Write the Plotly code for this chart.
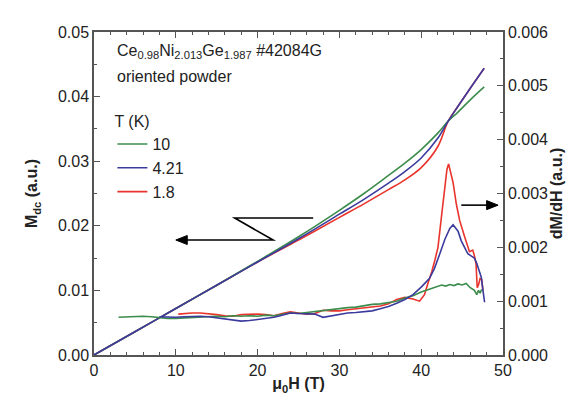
import plotly.graph_objects as go

# ---- Magnetization M_dc (left axis) ----
H_M = [0, 5, 10, 15, 20, 25, 30, 33, 36, 38, 40, 42, 43.3, 44.5, 46, 47.7]
M_10 = [0, 0.0036, 0.0072, 0.0108, 0.0145, 0.0183, 0.0224, 0.0250, 0.0278, 0.0297, 0.0318, 0.0343, 0.0362, 0.0376, 0.0395, 0.0415]
M_421 = [0, 0.0036, 0.0072, 0.0108, 0.0144, 0.0180, 0.0218, 0.0241, 0.0266, 0.0284, 0.0305, 0.0335, 0.0362, 0.0385, 0.0413, 0.0444]
M_18 = [0, 0.0036, 0.0072, 0.0108, 0.0144, 0.0178, 0.0213, 0.0234, 0.0256, 0.0271, 0.0290, 0.0322, 0.0362, 0.0385, 0.0413, 0.0444]

# ---- dM/dH (right axis), values in units of 1e-3 ----
H_d10 = [3, 4, 5, 6, 7, 8, 9, 10, 11, 12, 13, 14, 15, 16, 17, 18, 19, 20, 21, 22, 23, 24, 25, 26, 27, 28,
         29, 30, 31, 32, 33, 34, 35, 36, 37, 38, 39, 40, 41, 42, 42.5, 43, 43.5, 44, 44.5, 45, 45.5, 46,
         46.5, 46.8, 47.0, 47.2, 47.4]
D_10 = [0.70, 0.71, 0.72, 0.72, 0.71, 0.69, 0.68, 0.68, 0.69, 0.70, 0.71, 0.72, 0.72, 0.71, 0.73, 0.72,
        0.73, 0.72, 0.74, 0.73, 0.76, 0.78, 0.77, 0.79, 0.80, 0.82, 0.84, 0.86, 0.88, 0.89, 0.92, 0.94,
        0.95, 0.97, 1.00, 1.06, 1.10, 1.17, 1.22, 1.28, 1.30, 1.28, 1.31, 1.29, 1.32, 1.30, 1.33, 1.25,
        1.20, 1.12, 1.20, 1.15, 1.22]

H_d421 = [8, 9, 10, 11, 12, 13, 14, 15, 16, 17, 18, 19, 20, 21, 22, 23, 24, 25, 26, 27, 28, 29, 30, 31, 32,
          33, 34, 35, 36, 37, 38, 39, 40, 41, 41.6, 42.2, 42.9, 43.5, 43.9, 44.5, 44.9, 45.3, 45.7, 46.1,
          46.5, 46.8, 47.1, 47.35, 47.55, 47.75]
D_421 = [0.71, 0.70, 0.70, 0.71, 0.72, 0.72, 0.71, 0.69, 0.67, 0.65, 0.63, 0.64, 0.66, 0.68, 0.70, 0.74,
         0.78, 0.77, 0.77, 0.76, 0.70, 0.73, 0.76, 0.78, 0.79, 0.80, 0.82, 0.86, 0.90, 0.96, 1.03, 1.12,
         1.26, 1.42, 1.60, 1.85, 2.15, 2.35, 2.42, 2.30, 2.12, 2.00, 1.88, 1.84, 1.80, 1.70, 1.57, 1.44,
         1.20, 0.98]

H_d18 = [10.3, 11, 12, 13, 14, 15, 16, 17, 18, 19, 20, 21, 22, 23, 24, 25, 26, 27, 28, 29, 30, 31, 32, 33,
         34, 35, 36, 37, 38, 39, 39.8, 40.4, 40.8, 41.3, 41.7, 42.05, 42.5, 42.9, 43.15, 43.35, 43.6, 43.9,
         44.3, 44.7, 45.3, 45.9, 46.3, 46.5, 46.7, 46.85, 47.0, 47.2, 47.4, 47.55]
D_18 = [0.76, 0.77, 0.78, 0.78, 0.77, 0.75, 0.73, 0.72, 0.75, 0.76, 0.76, 0.75, 0.73, 0.77, 0.80, 0.78,
        0.76, 0.77, 0.83, 0.82, 0.82, 0.84, 0.86, 0.88, 0.90, 0.91, 0.95, 1.03, 1.07, 1.04, 1.00, 1.12,
        1.32, 1.55, 1.78, 2.00, 2.60, 3.20, 3.45, 3.55, 3.40, 3.20, 2.80, 2.50, 2.20, 1.92, 1.95, 1.85,
        1.70, 1.25, 1.30, 1.42, 1.40, 1.20]

colors = {"10": "#3c8c4c", "4.21": "#3b3b9e", "1.8": "#e8342c"}

FONT = "Liberation Sans, Arial, sans-serif"
TXT = "#222222"
AX = "#555555"

fig = go.Figure()

series = [("1.8", M_18, H_d18, D_18, 3), ("10", M_10, H_d10, D_10, 1), ("4.21", M_421, H_d421, D_421, 2)]
for lab, M, Hd, D, rank in series:
    fig.add_trace(go.Scatter(x=H_M, y=M, mode="lines", name=lab, legendrank=rank,
                             line=dict(color=colors[lab], width=1.6, shape="spline"), yaxis="y"))
for lab, M, Hd, D, rank in series:
    fig.add_trace(go.Scatter(x=Hd, y=[v * 1e-3 for v in D], mode="lines", name=lab, showlegend=False,
                             line=dict(color=colors[lab], width=1.6), yaxis="y2"))

axis_common = dict(showline=True, linecolor=AX, linewidth=1.5, ticks="inside", tickcolor=AX,
                   ticklen=6, tickwidth=1.2, showgrid=False, zeroline=False,
                   tickfont=dict(family=FONT, size=16, color=TXT))

fig.update_layout(
    width=579, height=398,
    margin=dict(l=86, r=84, t=24, b=51),
    paper_bgcolor="white", plot_bgcolor="white",
    font=dict(family=FONT, size=16, color=TXT),
    xaxis=dict(range=[0, 50], dtick=10, mirror="ticks",
               minor=dict(dtick=2, ticks="inside", ticklen=3, tickcolor=AX),
               title=dict(text="<b>μ<sub>0</sub>H (T)</b>", font=dict(family=FONT, size=16, color=TXT), standoff=0),
               **axis_common),
    yaxis=dict(range=[0, 0.05], dtick=0.01, tickformat=".2f",
               minor=dict(dtick=0.005, ticks="inside", ticklen=3, tickcolor=AX),
               title=dict(text="<b>M<sub>dc</sub> (a.u.)</b>", font=dict(family=FONT, size=16, color=TXT), standoff=16),
               **axis_common),
    yaxis2=dict(range=[0, 0.006], dtick=0.001, tickformat=".3f", overlaying="y", side="right",
                minor=dict(dtick=0.0005, ticks="inside", ticklen=3, tickcolor=AX),
                title=dict(text="<b>dM/dH (a.u.)</b>", font=dict(family=FONT, size=16, color=TXT), standoff=4),
                **axis_common),
    legend=dict(x=0.045, y=0.77, xanchor="left", yanchor="top", bgcolor="rgba(0,0,0,0)",
                title=dict(text="T (K)", font=dict(family=FONT, size=16, color=TXT)),
                font=dict(family=FONT, size=16, color=TXT), tracegroupgap=0, itemwidth=30),
    showlegend=True,
)

fig.add_annotation(xref="paper", yref="paper", x=0.052, y=0.975, xanchor="left", yanchor="top",
                   text="Ce<sub>0.98</sub>Ni<sub>2.013</sub>Ge<sub>1.987</sub> #42084G", showarrow=False,
                   font=dict(family=FONT, size=16, color=TXT))
fig.add_annotation(xref="paper", yref="paper", x=0.052, y=0.895, xanchor="left", yanchor="top",
                   text="oriented powder", showarrow=False, font=dict(family=FONT, size=16, color=TXT))

# Z-shaped pointer to the left axis
fig.add_shape(type="path", xref="x", yref="y", path="M 26.8 0.0212 L 17.2 0.0212 L 21.9 0.0178 L 11.0 0.0178",
              line=dict(color="black", width=1.6))
fig.add_shape(type="path", xref="x", yref="y", path="M 10.0 0.0178 L 11.4 0.0185 L 11.4 0.0171 Z",
              line=dict(color="black", width=1), fillcolor="black")
# arrow pointing to the right axis
fig.add_shape(type="path", xref="x", yref="y", path="M 44.9 0.0232 L 48.4 0.0232",
              line=dict(color="black", width=1.6))
fig.add_shape(type="path", xref="x", yref="y", path="M 49.4 0.0232 L 48.0 0.0239 L 48.0 0.0225 Z",
              line=dict(color="black", width=1), fillcolor="black")

fig.write_html("out.html")
